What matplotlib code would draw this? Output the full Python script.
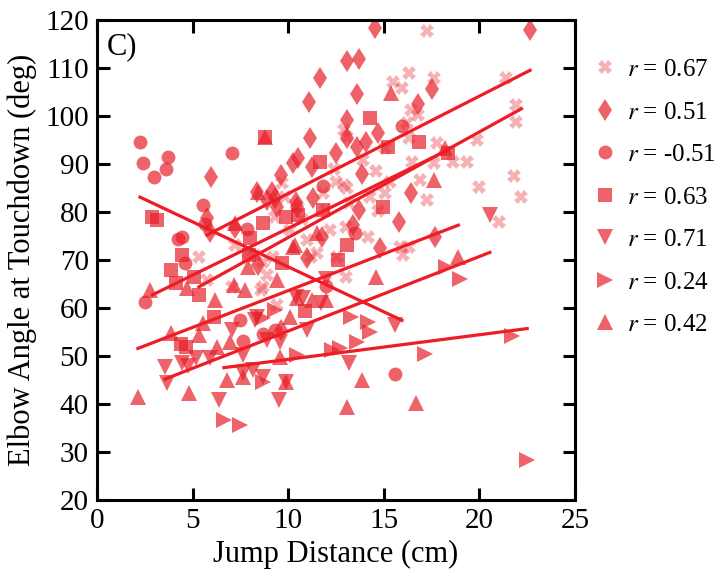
import numpy as np
import matplotlib
matplotlib.use('Agg')
import matplotlib.pyplot as plt

plt.rcParams['font.family'] = ['Liberation Serif', 'DejaVu Serif']
plt.rcParams['mathtext.fontset'] = 'stix'

# series order as in legend
labels = ['0.67', '0.51', '-0.51', '0.63', '0.71', '0.24', '0.42']

x_cross = [17.26, 16.3, 17.6, 21.4, 21.9, 21.9, 19.9, 17.8, 16.5, 17.6, 18.6, 19.35, 16.9, 20.0,
           21.8, 22.2, 17.26, 21.0, 16.4, 16.8, 15.95, 16.3, 15.5, 16.2, 12.9, 15.06, 12.5, 12.9,
           15.06, 14.3, 14.2, 15.85, 12.2, 13.07, 13.07, 13.2, 12.0, 9.7, 9.83, 9.3, 10.1, 11.0,
           13.0, 11.5, 12.55, 9.2, 16.3, 10.5, 7.2, 7.9, 5.33, 5.75, 7.06, 8.6, 9.4, 11.2, 8.9,
           8.26, 8.7, 13.0, 8.7, 16.0, 12.4, 11.8, 14.6, 15.3, 13.9, 14.7, 10.7]
y_cross = [117.7, 109.0, 107.9, 107.9, 102.3, 98.8, 95.0, 94.4, 90.4, 90.2, 90.4, 90.4, 86.7, 85.2,
           87.5, 83.1, 82.5, 77.9, 101.2, 100.2, 105.8, 72.7, 107.1, 98.5, 97.1, 93.3, 86.2, 85.6,
           83.9, 83.1, 74.8, 72.7, 76.2, 95.6, 85.0, 81.9, 80.4, 86.0, 83.1, 79.0, 76.2, 74.2,
           76.9, 71.5, 70.6, 70.6, 95.4, 81.0, 73.1, 71.5, 70.6, 65.8, 64.4, 63.7, 60.6, 70.6, 66.9,
           71.0, 69.6, 66.5, 64.4, 71.0, 89.0, 84.0, 88.5, 86.3, 90.8, 80.3, 78.6]

x_diam = [22.65, 14.55, 13.07, 13.7, 11.66, 11.1, 13.6, 17.5, 16.8, 16.4, 15.8, 17.7, 13.07, 14.7,
          13.07, 14.07, 13.6, 12.5, 13.86, 13.7, 14.8, 13.4, 11.14, 10.5, 10.25, 11.24, 9.6, 8.37,
          9.15, 8.9, 9.4, 10.4, 10.46, 11.3, 11.77, 5.96, 5.9, 5.75, 9.3, 7.2, 8.4, 9.6, 11.0]
y_diam = [117.9, 118.3, 111.5, 111.9, 107.9, 102.9, 104.6, 105.6, 102.5, 84.0, 77.9, 74.8, 99.2, 96.5,
          95.4, 94.6, 93.5, 92.3, 87.9, 80.4, 72.5, 77.3, 95.4, 91.2, 90.2, 89.4, 87.7, 84.2,
          84.2, 82.5, 81.0, 82.1, 81.0, 82.9, 74.8, 87.3, 75.8, 78.7, 82.9, 76.7, 69.0, 55.4, 70.5]

x_circ = [2.25, 2.4, 3.0, 3.6, 3.7, 7.06, 5.54, 5.65, 4.24, 4.45, 7.85, 4.6, 2.5, 7.5, 7.64, 8.7,
          12.0, 15.6, 11.8, 15.95, 13.5, 9.3]
y_circ = [94.6, 90.2, 87.3, 89.0, 91.4, 92.3, 81.4, 77.5, 74.4, 74.8, 76.5, 69.4, 61.2, 57.5, 53.1, 54.6,
          64.6, 46.2, 85.4, 97.9, 75.6, 55.5]

x_sq = [2.9, 3.15, 8.8, 11.66, 3.87, 4.45, 4.13, 5.07, 5.33, 6.1, 4.65, 4.4, 7.95, 12.6, 10.9, 9.7,
        14.3, 14.96, 8.7, 9.9, 11.8, 13.07, 8.0, 16.84, 18.36, 15.2, 10.5]
y_sq = [79.0, 78.3, 95.6, 90.4, 67.9, 71.0, 65.2, 66.5, 62.7, 58.1, 51.9, 52.4, 71.0, 70.0, 59.4, 69.4,
        99.6, 81.0, 77.7, 79.0, 80.4, 73.1, 74.6, 94.6, 92.3, 93.5, 79.3]

x_down = [3.56, 3.66, 4.45, 4.75, 5.2, 5.9, 6.4, 7.06, 7.64, 7.64, 8.37, 8.9, 9.57, 8.7, 9.5, 11.0,
          10.4, 10.8, 13.2, 15.6, 8.16, 8.26, 20.55, 12.0, 11.7, 9.9]
y_down = [47.7, 44.4, 48.5, 48.0, 49.6, 49.6, 40.8, 55.4, 50.2, 46.5, 58.1, 53.3, 52.9, 45.6, 40.8, 55.4,
          62.3, 62.1, 48.5, 56.4, 47.1, 57.5, 79.4, 66.0, 61.0, 44.6]

x_right = [6.64, 7.48, 8.7, 8.7, 10.46, 12.3, 12.7, 13.3, 14.2, 14.3, 13.6, 17.15, 18.25, 19.0, 21.7,
           22.5, 9.3]
y_right = [36.7, 35.6, 57.9, 44.6, 50.2, 51.2, 51.7, 58.1, 57.1, 55.0, 52.9, 50.4, 68.5, 66.0, 54.2,
           28.3, 59.5]

x_up = [2.14, 2.77, 3.87, 4.8, 4.7, 5.54, 5.33, 6.17, 6.27, 6.95, 7.17, 7.74, 6.8, 7.64, 9.4, 10.46,
        11.24, 12.0, 10.1, 14.6, 9.9, 13.86, 13.07, 9.57, 18.9, 16.7, 15.4, 17.6, 18.2, 8.8, 8.4, 7.2,
        10.35, 10.25, 11.5, 7.9]
y_up = [41.5, 63.7, 54.8, 42.3, 64.2, 56.9, 54.4, 61.7, 51.9, 52.9, 64.8, 63.7, 45.0, 45.6, 65.8, 62.1,
        61.7, 61.7, 58.1, 66.5, 44.6, 45.0, 39.4, 49.8, 70.6, 40.2, 104.8, 86.7, 93.3, 95.6, 84.2, 77.7,
        73.1, 72.7, 75.6, 68.5]

# regression lines (slope, intercept)
fit_slope = [2.20, 2.03, -1.873, 1.952, 1.553, 0.513, 1.532]
fit_icpt = [52.68, 63.54, 87.31, 57.08, 39.67, 44.17, 48.30]

xs = [x_cross, x_diam, x_circ, x_sq, x_down, x_right, x_up]
ys = [y_cross, y_diam, y_circ, y_sq, y_down, y_right, y_up]
markers = ['X', 'd', 'o', 's', 'v', '>', '^']
msizes = [9.5, 11.5, 10, 9.5, 11, 11, 11]
alphas = [0.35, 0.7, 0.7, 0.7, 0.7, 0.7, 0.7]

red = '#e8202a'
fig = plt.figure(figsize=(7.21, 5.71), dpi=100)
ax = fig.add_axes([0.1345, 0.1243, 0.663, 0.8407])

for i in range(7):
    ax.plot(xs[i], ys[i], linestyle='none', marker=markers[i], markersize=msizes[i],
            color=red, alpha=alphas[i], markeredgewidth=0, label='$r$ = ' + labels[i])

for i in range(7):
    xl = np.array([min(xs[i]), max(xs[i])])
    ax.plot(xl, fit_slope[i] * xl + fit_icpt[i], color='#ee1c25', lw=2.3, zorder=5)

ax.set_xlim(0, 25)
ax.set_ylim(20, 120)
ax.set_xticks(range(0, 26, 5))
ax.set_yticks(range(20, 121, 10))
ax.tick_params(direction='in', length=9, width=2.2, labelsize=21, top=True, right=True, pad=6)
for s in ax.spines.values():
    s.set_linewidth(2.2)
ax.set_xlabel('Jump Distance (cm)', fontsize=22, labelpad=4)
ax.set_ylabel('Elbow Angle at Touchdown (deg)', fontsize=22, labelpad=6)
ax.text(0.02, 0.975, 'C)', transform=ax.transAxes, fontsize=22, va='top', ha='left')

ax.legend(loc='upper left', bbox_to_anchor=(1.0, 0.956), frameon=False, fontsize=18,
          handletextpad=0.4, labelspacing=0.8, handlelength=1.0, borderaxespad=0.4,
          borderpad=0.3)

fig.savefig('out.png', dpi=100)
